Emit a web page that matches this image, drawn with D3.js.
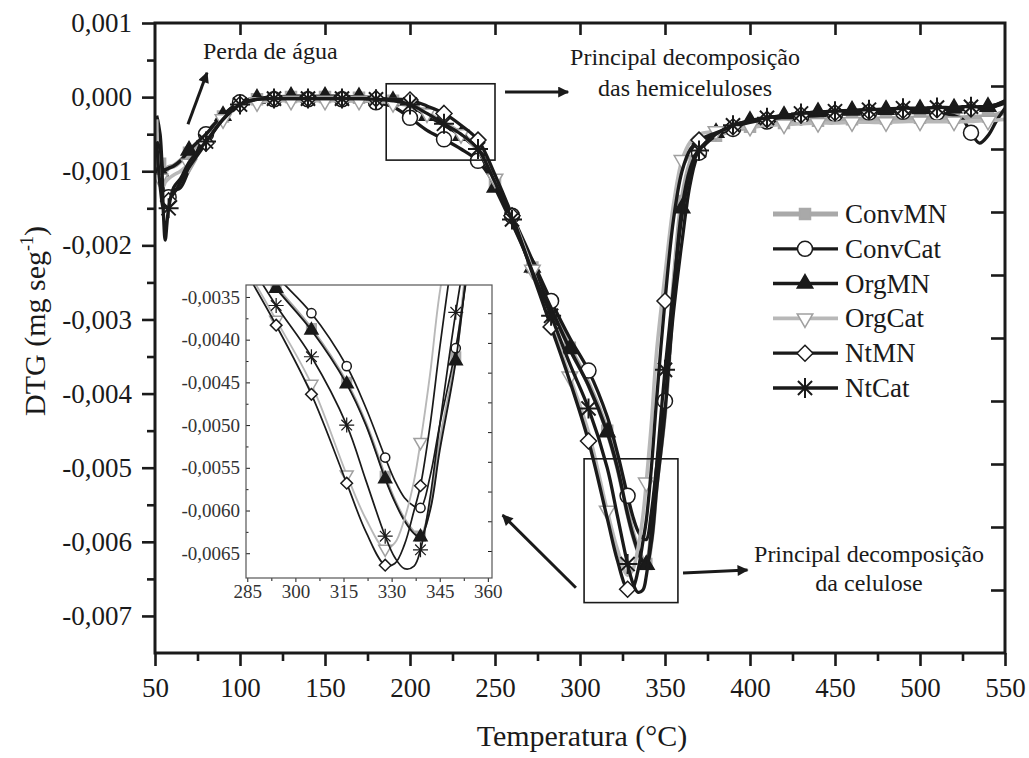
<!DOCTYPE html>
<html>
<head>
<meta charset="utf-8">
<script src="https://cdn.jsdelivr.net/npm/d3@7"></script>
<style>
body { margin: 0; background: #fff; }
svg { display: block; font-family: "Liberation Serif", "Times New Roman", serif; }
</style>
</head>
<body>
<svg id="chart" width="1029" height="758"></svg>
<script>
// temperature grid (°C), shared by every curve
var temps = [51, 53, 55, 56, 58, 61, 65,
    70, 80, 90, 100, 110, 120, 130, 140, 150, 160, 170, 180, 190, 200, 210, 220, 230, 240, 250, 260,
    272, 283, 294, 305, 316, 322, 328, 331, 334, 337, 339, 342, 345, 350, 355, 360, 365, 370,
    380, 390, 400, 410, 420, 430, 440, 450, 460, 470, 480, 490, 500, 510, 520,
    525, 530, 535, 540, 545, 550]

// DTG in units of 0,001 mg/s
var convMN = [-0.3, -0.9, -1.0, -1.0, -0.95, -0.93, -0.86,
    -0.75, -0.5, -0.26, -0.08, -0.03, -0.01, 0.0, 0.0, 0.0, 0.0, -0.01, -0.02, -0.05, -0.1, -0.22, -0.35, -0.5, -0.7, -1.15, -1.65,
    -2.3, -2.85, -3.38, -3.87, -4.5, -4.98, -5.6, -5.88, -6.1, -6.25, -6.3, -5.95, -5.2, -4.2, -2.6, -1.4, -0.88, -0.65,
    -0.52, -0.45, -0.4, -0.37, -0.35, -0.33, -0.32, -0.31, -0.3, -0.3, -0.29, -0.29, -0.28, -0.28, -0.28,
    -0.28, -0.27, -0.27, -0.26, -0.24, -0.2]
var convCat = [-0.25, -0.5, -1.3, -1.45, -1.35, -1.27, -1.22,
    -0.98, -0.5, -0.25, -0.07, -0.04, -0.03, -0.03, -0.03, -0.03, -0.03, -0.04, -0.07, -0.13, -0.28, -0.45, -0.57, -0.7, -0.86, -1.18, -1.6,
    -2.2, -2.75, -3.25, -3.69, -4.31, -4.8, -5.38, -5.65, -5.85, -5.95, -5.97, -5.6, -5.0, -4.1, -2.9, -1.95, -1.15, -0.75,
    -0.52, -0.43, -0.37, -0.33, -0.3, -0.27, -0.25, -0.23, -0.22, -0.21, -0.2, -0.2, -0.2, -0.21, -0.25,
    -0.3, -0.48, -0.62, -0.52, -0.32, -0.15]
var orgMN = [-0.5, -1.0, -1.0, -0.98, -0.96, -0.93, -0.86,
    -0.72, -0.5, -0.25, -0.07, -0.02, 0.0, 0.01, 0.01, 0.01, 0.01, 0.0, -0.01, -0.05, -0.12, -0.25, -0.38, -0.52, -0.72, -1.22, -1.7,
    -2.3, -2.85, -3.4, -3.89, -4.52, -5.0, -5.63, -5.9, -6.12, -6.27, -6.31, -6.0, -5.3, -4.25, -2.7, -1.5, -0.95, -0.7,
    -0.48, -0.38, -0.32, -0.28, -0.25, -0.22, -0.2, -0.19, -0.18, -0.17, -0.17, -0.16, -0.16, -0.15, -0.15,
    -0.15, -0.14, -0.14, -0.13, -0.1, -0.05]
var orgCat = [-0.3, -1.1, -1.2, -1.15, -1.1, -1.05, -1.0,
    -0.9, -0.6, -0.3, -0.12, -0.07, -0.05, -0.05, -0.05, -0.05, -0.05, -0.05, -0.06, -0.08, -0.12, -0.22, -0.35, -0.5, -0.72, -1.1, -1.6,
    -2.33, -3.05, -3.77, -4.52, -5.58, -6.1, -6.45, -6.38, -6.1, -5.65, -5.2, -4.4, -3.45, -2.4, -1.45, -0.85, -0.6, -0.5,
    -0.46, -0.42, -0.4, -0.38, -0.37, -0.36, -0.35, -0.35, -0.34, -0.34, -0.34, -0.33, -0.33, -0.33, -0.33,
    -0.33, -0.33, -0.32, -0.32, -0.31, -0.3]
var ntMN = [-0.6, -1.2, -1.5, -1.45, -1.4, -1.3, -1.15,
    -0.95, -0.62, -0.3, -0.1, -0.03, -0.02, -0.02, -0.02, -0.02, -0.02, -0.02, -0.02, -0.03, -0.04, -0.12, -0.22, -0.38, -0.58, -1.05, -1.6,
    -2.38, -3.1, -3.83, -4.64, -5.68, -6.25, -6.64, -6.62, -6.4, -6.0, -5.71, -5.0, -4.1, -2.75, -1.65, -1.0, -0.7, -0.58,
    -0.48, -0.4, -0.34, -0.3, -0.27, -0.24, -0.22, -0.21, -0.2, -0.19, -0.19, -0.18, -0.18, -0.17, -0.17,
    -0.17, -0.16, -0.16, -0.15, -0.12, -0.08]
var ntCat = [-0.6, -0.7, -1.6, -1.93, -1.5, -1.22, -1.1,
    -0.88, -0.6, -0.3, -0.1, -0.03, -0.02, -0.02, -0.02, -0.02, -0.02, -0.02, -0.03, -0.05, -0.1, -0.22, -0.36, -0.5, -0.7, -1.15, -1.65,
    -2.35, -2.95, -3.6, -4.2, -5.0, -5.65, -6.3, -6.55, -6.68, -6.65, -6.46, -5.85, -5.0, -3.68, -2.57, -1.6, -1.0, -0.72,
    -0.5, -0.38, -0.32, -0.28, -0.25, -0.22, -0.2, -0.19, -0.18, -0.17, -0.16, -0.15, -0.15, -0.14, -0.14,
    -0.13, -0.13, -0.13, -0.12, -0.1, -0.06]

var seriesNames = ["ConvMN", "ConvCat", "OrgMN", "OrgCat", "NtMN", "NtCat"]
var seriesValues = [convMN, convCat, orgMN, orgCat, ntMN, ntCat]

var xTicks = d3.range(50, 551, 50)
var yTicks = d3.range(1, -8, -1)
var insetXTicks = [285, 300, 315, 330, 345, 360]
var insetYTicks = [-3.5, -4, -4.5, -5, -5.5, -6, -6.5]
var insetMarkT = [294, 305, 316, 328, 339, 350]

// annotations, in data units
var notes = [
    {lines: ["Perda de água"], t: 78.2, v: [0.51], anchor: "start"},
    {lines: ["Principal decomposição", "das hemiceluloses"], t: 361.8, v: [0.43, 0.01], anchor: "middle"},
    {lines: ["Principal decomposição", "da celulose"], t: 470, v: [-6.27, -6.66], anchor: "middle"}
]
var arrows = [[69.4, -0.365, 80.6, 0.33], [255.9, 0.068, 293, 0.068], [360.6, -6.42, 398.5, -6.38], [297.6, -6.62, 254.5, -5.64]]
var boxes = [[186, 0.18, 250, -0.85], [302.4, -4.88, 357.6, -6.82]]

// marker placement (every ~20 °C, two interleaved sets)
var markA = [53].concat(d3.range(70, 251, 20), [272, 294, 316, 339], d3.range(360, 541, 20))
var markB = [58].concat(d3.range(80, 261, 20), [283, 305, 328, 350], d3.range(370, 531, 20))

var grey = "#a9a9a9"
var ink = "#1a1a1a"
var styles = [
    {shape: "square", line: grey, width: 5.2, fill: grey, stroke: grey, marks: markA},
    {shape: "circle", line: ink, width: 3.3, fill: "#fff", stroke: ink, marks: markB},
    {shape: "triUp", line: ink, width: 3.5, fill: ink, stroke: ink, marks: markA},
    {shape: "triDown", line: "#b8b8b8", width: 3.6, fill: "#fff", stroke: "#a0a0a0", marks: markA},
    {shape: "diamond", line: ink, width: 3.3, fill: "#fff", stroke: ink, marks: markB},
    {shape: "star", line: ink, width: 3.3, fill: "none", stroke: ink, marks: markB}
]
var mainSize = {circle: 7.5, square: 5.5, triUp: 9, triDown: 9, diamond: 8, star: 10}
var insetSize = {circle: 4.6, square: 4.8, triUp: 7.5, triDown: 7.5, diamond: 5.8, star: 7.5}

var loc = d3.formatLocale({decimal: ",", thousands: ".", grouping: [3], currency: ["", ""], minus: "-"})

var svg = d3.select("#chart")
var x = d3.scaleLinear().domain([50, 550]).range([155, 1005])
var y = d3.scaleLinear().domain([1, -7.5]).range([23, 653])
var xi = d3.scaleLinear().domain([284.6, 361.3]).range([246, 492])
var yi = d3.scaleLinear().domain([-3.36, -6.79]).range([285, 578])

function shapePath(shape, r) {
    var k = r * 0.707
    switch (shape) {
        case "circle": return "M" + r + ",0A" + r + "," + r + " 0 1,1 " + (-r) + ",0A" + r + "," + r + " 0 1,1 " + r + ",0Z"
        case "square": return "M" + (-r) + "," + (-r) + "H" + r + "V" + r + "H" + (-r) + "Z"
        case "triUp": return "M0," + (-r) + "L" + (0.866 * r) + "," + (0.5 * r) + "L" + (-0.866 * r) + "," + (0.5 * r) + "Z"
        case "triDown": return "M0," + r + "L" + (0.866 * r) + "," + (-0.5 * r) + "L" + (-0.866 * r) + "," + (-0.5 * r) + "Z"
        case "diamond": return "M0," + (-r) + "L" + r + ",0L0," + r + "L" + (-r) + ",0Z"
        case "star": return "M" + (-r) + ",0H" + r + "M0," + (-r) + "V" + r +
            "M" + (-k) + "," + (-k) + "L" + k + "," + k + "M" + (-k) + "," + k + "L" + k + "," + (-k)
    }
}

function points(values) {
    return temps.map(function (t, i) { return {t: t, v: values[i]} })
}

function drawCurves(g, xs, ys, sizes, lineScale, markFilter, clipId) {
    var line = d3.line()
        .x(function (d) { return xs(d.t) })
        .y(function (d) { return ys(d.v) })
        .curve(d3.curveCatmullRom.alpha(0.5))
    var layer = g.append("g").attr("clip-path", "url(#" + clipId + ")")
    seriesValues.forEach(function (values, s) {
        var st = styles[s]
        var pts = points(values)
        layer.append("path")
            .attr("d", line(pts))
            .attr("fill", "none")
            .attr("stroke", st.line)
            .attr("stroke-width", st.width * lineScale)
            .attr("stroke-linejoin", "round")
        layer.selectAll(null)
            .data(pts.filter(function (d) { return markFilter(st, d) }))
            .enter()
            .append("path")
            .attr("transform", function (d) { return "translate(" + xs(d.t) + "," + ys(d.v) + ")" })
            .attr("d", shapePath(st.shape, sizes[st.shape]))
            .attr("fill", st.fill)
            .attr("stroke", st.stroke)
            .attr("stroke-width", st.shape == "star" ? 1.6 * lineScale + 0.4 : 1.5)
    })
}

var defs = svg.append("defs")
defs.append("clipPath").attr("id", "clipMain").append("rect")
    .attr("x", x(50)).attr("y", y(1)).attr("width", x(550) - x(50)).attr("height", y(-7.5) - y(1))
defs.append("clipPath").attr("id", "clipInset").append("rect")
    .attr("x", xi.range()[0]).attr("y", yi.range()[0])
    .attr("width", xi.range()[1] - xi.range()[0]).attr("height", yi.range()[1] - yi.range()[0])
defs.append("marker")
    .attr("id", "arrow")
    .attr("viewBox", "0 0 10 10")
    .attr("refX", 9).attr("refY", 5)
    .attr("markerWidth", 16).attr("markerHeight", 11)
    .attr("markerUnits", "userSpaceOnUse")
    .attr("orient", "auto")
    .append("path").attr("d", "M0,0L10,5L0,10Z").attr("fill", ink)

// main curves
var mainLayer = svg.append("g")
drawCurves(mainLayer, x, y, mainSize, 1, function (st, d) { return st.marks.indexOf(d.t) > -1 }, "clipMain")

// axes
function styleAxis(g, width, size) {
    g.select(".domain").remove()
    g.selectAll(".tick line").attr("stroke", ink).attr("stroke-width", width)
    g.selectAll(".tick text").attr("fill", ink).attr("font-size", size)
        .attr("font-family", "Liberation Serif, Times New Roman, serif")
}

var fmt3 = loc.format(".3f")
var axBottom = svg.append("g").attr("transform", "translate(0," + y(-7.5) + ")")
    .call(d3.axisBottom(x).tickValues(xTicks).tickSize(13).tickPadding(12).tickFormat(d3.format("d")))
styleAxis(axBottom, 2.6, 27)
var axBottomMinor = svg.append("g").attr("transform", "translate(0," + y(-7.5) + ")")
    .call(d3.axisBottom(x).tickValues(d3.range(75, 526, 50)).tickSize(8).tickFormat(""))
styleAxis(axBottomMinor, 2.6, 27)
var axLeft = svg.append("g").attr("transform", "translate(" + x(50) + ",0)")
    .call(d3.axisLeft(y).tickValues(yTicks).tickSize(13).tickPadding(10).tickFormat(function (d) { return fmt3(d / 1000) }))
styleAxis(axLeft, 2.6, 27)
var axLeftMinor = svg.append("g").attr("transform", "translate(" + x(50) + ",0)")
    .call(d3.axisLeft(y).tickValues(d3.range(0.5, -7.5, -1)).tickSize(8).tickFormat(""))
styleAxis(axLeftMinor, 2.6, 27)
var axTop = svg.append("g").attr("transform", "translate(0," + y(1) + ")")
    .call(d3.axisTop(x).tickValues(d3.range(100, 501, 50)).tickSize(-12).tickFormat(""))
styleAxis(axTop, 2.6, 27)
var axRight = svg.append("g").attr("transform", "translate(" + x(550) + ",0)")
    .call(d3.axisRight(y).tickValues(d3.range(0.15, -6.7, -0.85)).tickSize(-14).tickFormat(""))
styleAxis(axRight, 2.6, 27)

svg.append("rect")
    .attr("x", x(50)).attr("y", y(1))
    .attr("width", x(550) - x(50)).attr("height", y(-7.5) - y(1))
    .attr("fill", "none").attr("stroke", ink).attr("stroke-width", 3)

// axis titles
svg.append("text")
    .attr("x", 582).attr("y", 746)
    .attr("text-anchor", "middle")
    .attr("font-size", 30).attr("fill", ink)
    .text("Temperatura (°C)")
var yTitle = svg.append("text")
    .attr("transform", "translate(45,321) rotate(-90)")
    .attr("text-anchor", "middle")
    .attr("font-size", 30).attr("fill", ink)
yTitle.append("tspan").text("DTG (mg seg")
yTitle.append("tspan").attr("font-size", 18).attr("dy", -12).text("-1")
yTitle.append("tspan").attr("dy", 12).text(")")

// annotation boxes, arrows and notes
boxes.forEach(function (b) {
    svg.append("rect")
        .attr("x", x(b[0])).attr("y", y(b[1]))
        .attr("width", x(b[2]) - x(b[0])).attr("height", y(b[3]) - y(b[1]))
        .attr("fill", "none").attr("stroke", ink).attr("stroke-width", 1.6)
})
arrows.forEach(function (a) {
    svg.append("line")
        .attr("x1", x(a[0])).attr("y1", y(a[1]))
        .attr("x2", x(a[2])).attr("y2", y(a[3]))
        .attr("stroke", ink).attr("stroke-width", 3)
        .attr("marker-end", "url(#arrow)")
})
notes.forEach(function (n) {
    n.lines.forEach(function (txt, i) {
        svg.append("text")
            .attr("x", x(n.t)).attr("y", y(n.v[i]))
            .attr("text-anchor", n.anchor)
            .attr("font-size", 24).attr("fill", ink)
            .text(txt)
    })
})

// legend
var legend = svg.append("g")
seriesNames.forEach(function (name, i) {
    var st = styles[i]
    var ly = 214 + i * 34.8
    legend.append("line")
        .attr("x1", 773).attr("x2", 838).attr("y1", ly).attr("y2", ly)
        .attr("stroke", st.line).attr("stroke-width", st.width)
    legend.append("path")
        .attr("transform", "translate(805," + ly + ")")
        .attr("d", shapePath(st.shape, mainSize[st.shape]))
        .attr("fill", st.fill).attr("stroke", st.stroke)
        .attr("stroke-width", st.shape == "star" ? 2 : 1.5)
    legend.append("text")
        .attr("x", 845).attr("y", ly + 9)
        .attr("font-size", 27).attr("fill", ink)
        .text(name)
})

// inset
var inset = svg.append("g")
inset.append("rect")
    .attr("x", xi.range()[0]).attr("y", yi.range()[0])
    .attr("width", xi.range()[1] - xi.range()[0]).attr("height", yi.range()[1] - yi.range()[0])
    .attr("fill", "#fff")
drawCurves(inset, xi, yi, insetSize, 0.52, function (st, d) {
    return insetMarkT.indexOf(d.t) > -1 && d.v < yi.domain()[0] && d.v > yi.domain()[1]
}, "clipInset")

var fmt4 = loc.format(".4f")
var ib = inset.append("g").attr("transform", "translate(0," + yi.range()[1] + ")")
    .call(d3.axisBottom(xi).tickValues(insetXTicks).tickSize(4).tickPadding(3).tickFormat(d3.format("d")))
styleAxis(ib, 1, 19)
var ibm = inset.append("g").attr("transform", "translate(0," + yi.range()[1] + ")")
    .call(d3.axisBottom(xi).tickValues(d3.range(292.5, 355, 15)).tickSize(3).tickFormat(""))
styleAxis(ibm, 1, 19)
var il = inset.append("g").attr("transform", "translate(" + xi.range()[0] + ",0)")
    .call(d3.axisLeft(yi).tickValues(insetYTicks).tickSize(-4).tickPadding(6).tickFormat(function (d) { return fmt4(d / 1000) }))
styleAxis(il, 1, 19)
var ilm = inset.append("g").attr("transform", "translate(" + xi.range()[0] + ",0)")
    .call(d3.axisLeft(yi).tickValues(d3.range(-3.75, -6.6, -0.5)).tickSize(-2.5).tickFormat(""))
styleAxis(ilm, 1, 19)
var ir = inset.append("g").attr("transform", "translate(" + xi.range()[1] + ",0)")
    .call(d3.axisRight(yi).tickValues(d3.range(-3.69, -6.6, -0.348)).tickSize(-4).tickFormat(""))
styleAxis(ir, 1, 19)
inset.selectAll(".tick text").attr("fill", "#333")
inset.append("rect")
    .attr("x", xi.range()[0]).attr("y", yi.range()[0])
    .attr("width", xi.range()[1] - xi.range()[0]).attr("height", yi.range()[1] - yi.range()[0])
    .attr("fill", "none").attr("stroke", "#555").attr("stroke-width", 1.2)
</script>
</body>
</html>
